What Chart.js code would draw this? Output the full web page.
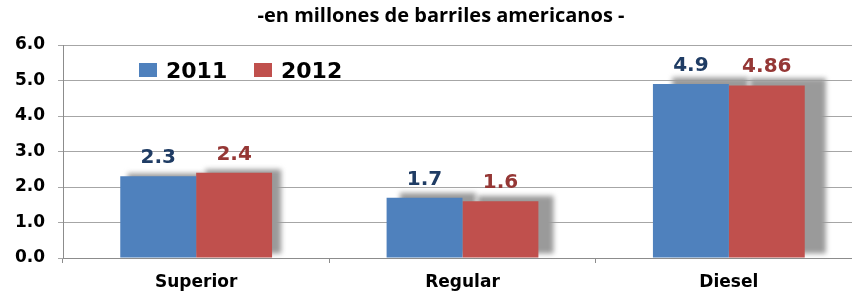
<!DOCTYPE html>
<html>
<head>
<meta charset="utf-8">
<script src="https://cdn.jsdelivr.net/npm/chart.js@4"></script>
<style>
  html, body { margin: 0; padding: 0; background: #fff; overflow: hidden; }
  #wrap { width: 862px; height: 297px; }
</style>
</head>
<body>
<div id="wrap"><canvas id="barChart" width="862" height="297"></canvas></div>
<script>
// Data
const categories = ['Superior', 'Regular', 'Diesel'];
const seriesNames = ['2011', '2012'];
const values2011 = [2.3, 1.7, 4.9];
const values2012 = [2.4, 1.6, 4.86];
const valueLabels2011 = ['2.3', '1.7', '4.9'];
const valueLabels2012 = ['2.4', '1.6', '4.86'];
const titleText = '-en millones de barriles americanos -';

const barColors = ['#4F81BD', '#C0504D'];
const labelColors = ['#1F3C64', '#953735'];
const FONT = "'DejaVu Sans', sans-serif";

// Gray blurred shadow behind every bar, drawn before the bars.
// The shadow drifts further right the further right the bar sits.
const shadowPlugin = {
  id: 'barShadow',
  beforeDatasetsDraw(chart) {
    const ctx = chart.ctx;
    ctx.save();
    ctx.fillStyle = '#9a9a9a';
    ctx.filter = 'blur(2.5px)';
    chart.data.datasets.forEach((ds, i) => {
      chart.getDatasetMeta(i).data.forEach(bar => {
        const right = bar.x + bar.width / 2;
        const dx = 3 + 0.0225 * right;
        const dy = 1.5 + 0.007 * right;
        const top = bar.y - dy;
        const bottom = bar.base - 4;
        ctx.fillRect(right - bar.width + dx, top, bar.width, bottom - top);
      });
    });
    ctx.restore();
  }
};

// Title, legend and value labels
const decorPlugin = {
  id: 'decor',
  afterDraw(chart) {
    const ctx = chart.ctx;
    ctx.save();

    ctx.fillStyle = '#000';
    ctx.font = "bold 20px 'Open Sans', sans-serif";
    ctx.textAlign = 'center';
    ctx.textBaseline = 'alphabetic';
    ctx.fillText(titleText, 441, 22);

    // legend
    ctx.textAlign = 'left';
    ctx.font = 'bold 22px ' + FONT;
    const legendX = [139, 254];
    seriesNames.forEach((name, i) => {
      ctx.fillStyle = barColors[i];
      ctx.fillRect(legendX[i], 63, 18, 14);
      ctx.fillStyle = '#000';
      ctx.fillText(name, legendX[i] + 27, 78);
    });

    // value labels
    const labelSets = [valueLabels2011, valueLabels2012];
    ctx.textAlign = 'center';
    ctx.font = 'bold 20px ' + FONT;
    chart.data.datasets.forEach((ds, i) => {
      const meta = chart.getDatasetMeta(i);
      meta.data.forEach((bar, j) => {
        ctx.fillStyle = labelColors[i];
        ctx.fillText(labelSets[i][j], bar.x, bar.y - 13);
      });
    });
    ctx.restore();
  }
};

const ctx = document.getElementById('barChart').getContext('2d');
new Chart(ctx, {
  type: 'bar',
  data: {
    labels: categories,
    datasets: [
      { label: seriesNames[0], data: values2011, backgroundColor: barColors[0] },
      { label: seriesNames[1], data: values2012, backgroundColor: barColors[1] }
    ]
  },
  plugins: [shadowPlugin, decorPlugin],
  options: {
    responsive: false,
    animation: false,
    layout: { padding: { top: 45, right: 0, bottom: 0, left: 0 } },
    datasets: {
      bar: { barPercentage: 1, categoryPercentage: 0.57 }
    },
    plugins: {
      legend: { display: false },
      title: { display: false },
      tooltip: { enabled: false }
    },
    scales: {
      x: {
        offset: true,
        afterFit(scale) { scale.height = 39; },
        grid: { display: true, drawOnChartArea: false, drawTicks: true, tickLength: 5, color: '#8c8c8c' },
        border: { display: true, color: '#8c8c8c' },
        ticks: {
          color: '#000',
          padding: 9,
          font: { family: FONT, size: 17, weight: 'bold' }
        }
      },
      y: {
        min: 0,
        max: 6,
        afterFit(scale) { scale.width = 63; },
        grid: { color: '#a6a6a6', tickLength: 5 },
        border: { display: true, color: '#8c8c8c' },
        ticks: {
          stepSize: 1,
          color: '#000',
          padding: 13,
          font: { family: FONT, size: 17, weight: 'bold' },
          callback: v => v.toFixed(1)
        }
      }
    }
  }
});
</script>
</body>
</html>
